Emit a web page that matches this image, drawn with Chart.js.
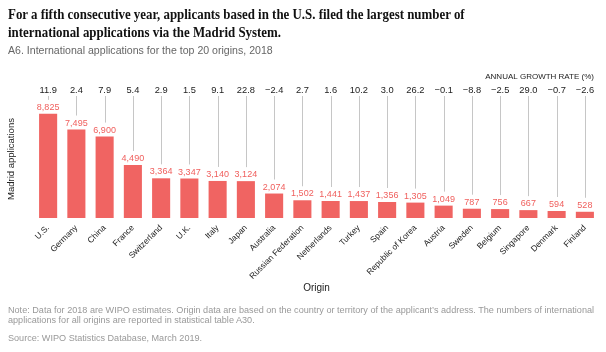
<!DOCTYPE html>
<html>
<head>
<meta charset="utf-8">
<script src="https://cdn.jsdelivr.net/npm/chart.js@4.4.1/dist/chart.umd.min.js"></script>
<style>
  html, body { margin: 0; padding: 0; background: #fff; }
  #wrap { position: relative; width: 606px; height: 352px; overflow: hidden; }
  #c { position: absolute; left: 0; top: 0; }
  .t { position: absolute; white-space: nowrap; transform-origin: 0 0; }
  #title { left: 8px; top: 5px; font-family: "Liberation Serif", serif; font-weight: bold; font-size: 15px; line-height: 18px; color: #111; transform: scaleX(0.86); }
  #sub { left: 8px; top: 44px; font-family: "Liberation Sans", Arial, sans-serif; font-size: 11.5px; color: #666; transform: scaleX(0.92); }
  #note { left: 8px; top: 306px; font-family: "Liberation Sans", Arial, sans-serif; font-size: 9.1px; line-height: 9.5px; color: #999; }
  #src { left: 8px; top: 333px; font-family: "Liberation Sans", Arial, sans-serif; font-size: 9.1px; color: #999; }
</style>
</head>
<body>
<div id="wrap">
  <canvas id="c" width="606" height="352"></canvas>
  <div class="t" id="title">For a fifth consecutive year, applicants based in the U.S. filed the largest number of<br>international applications via the Madrid System.</div>
  <div class="t" id="sub">A6. International applications for the top 20 origins, 2018</div>
  <div class="t" id="note">Note: Data for 2018 are WIPO estimates. Origin data are based on the country or territory of the applicant’s address. The numbers of international<br>applications for all origins are reported in statistical table A30.</div>
  <div class="t" id="src">Source: WIPO Statistics Database, March 2019.</div>
</div>
<script>
const origins = ["U.S.", "Germany", "China", "France", "Switzerland", "U.K.", "Italy", "Japan", "Australia", "Russian Federation", "Netherlands", "Turkey", "Spain", "Republic of Korea", "Austria", "Sweden", "Belgium", "Singapore", "Denmark", "Finland"];
const applications = [8825, 7495, 6900, 4490, 3364, 3347, 3140, 3124, 2074, 1502, 1441, 1437, 1356, 1305, 1049, 787, 756, 667, 594, 528];
const growthRates = [11.9, 2.4, 7.9, 5.4, 2.9, 1.5, 9.1, 22.8, -2.4, 2.7, 1.6, 10.2, 3.0, 26.2, -0.1, -8.8, -2.5, 29.0, -0.7, -2.6];

const SANS = '"Liberation Sans", Arial, sans-serif';
const fmtGrowth = v => (v < 0 ? '\u2212' : '') + Math.abs(v).toFixed(1);
const fmtApps = v => v.toLocaleString('en-US');

const annotate = {
  id: 'annotate',
  afterDatasetsDraw(chart) {
    const ctx = chart.ctx;
    const xs = chart.scales.x, ys = chart.scales.y;
    ctx.save();
    applications.forEach((v, i) => {
      const x = xs.getPixelForValue(i);
      const yTop = ys.getPixelForValue(v);
      ctx.strokeStyle = '#c6c6c6';
      ctx.lineWidth = 1;
      ctx.beginPath();
      ctx.moveTo(Math.round(x) + 0.5, 96);
      ctx.lineTo(Math.round(x) + 0.5, yTop - 14);
      ctx.stroke();
      ctx.fillStyle = '#f0605e';
      ctx.font = '9px ' + SANS;
      ctx.textAlign = 'center';
      ctx.textBaseline = 'alphabetic';
      ctx.fillText(fmtApps(v), x, yTop - 4);
      ctx.fillStyle = '#222';
      ctx.font = '9.3px ' + SANS;
      ctx.textBaseline = 'middle';
      ctx.fillText(fmtGrowth(growthRates[i]), x, 90);
    });
    ctx.fillStyle = '#222';
    ctx.font = '8px ' + SANS;
    ctx.textAlign = 'right';
    ctx.textBaseline = 'middle';
    ctx.fillText('ANNUAL GROWTH RATE (%)', 594, 77);
    ctx.restore();
  }
};

new Chart(document.getElementById('c'), {
  type: 'bar',
  data: {
    labels: origins,
    datasets: [{
      data: applications,
      backgroundColor: '#f06462',
      borderWidth: 0,
      categoryPercentage: 1,
      barPercentage: 0.64
    }]
  },
  options: {
    responsive: false,
    animation: false,
    events: [],
    layout: { padding: { left: 0, right: 7, top: 100, bottom: 58 } },
    plugins: { legend: { display: false }, tooltip: { enabled: false } },
    scales: {
      x: {
        grid: { display: false, drawTicks: false },
        border: { display: false },
        ticks: { autoSkip: false, maxRotation: 45, minRotation: 45, padding: 5, color: '#222', font: { family: SANS, size: 8.4 } },
        title: { display: true, text: 'Origin', color: '#222', font: { family: SANS, size: 10 }, padding: { top: 0, bottom: 0 } },
        afterFit: s => { s.height = 76; }
      },
      y: {
        min: 0, max: 10000,
        grid: { display: false, drawTicks: false },
        border: { display: false },
        ticks: { display: false },
        title: { display: true, text: 'Madrid applications', color: '#222', font: { family: SANS, size: 9.5 }, padding: { top: 6, bottom: 0 } },
        afterFit: s => { s.width = 34; }
      }
    }
  },
  plugins: [annotate]
});
</script>
</body>
</html>
